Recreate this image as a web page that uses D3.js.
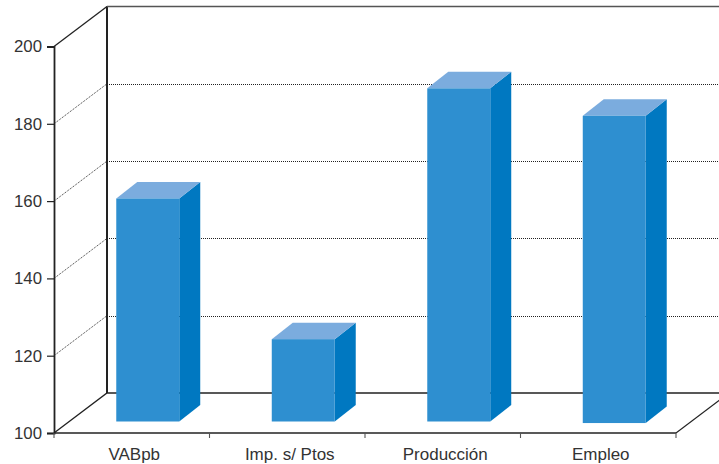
<!DOCTYPE html>
<html>
<head>
<meta charset="utf-8">
<script src="https://cdn.jsdelivr.net/npm/d3@7"></script>
<style>
  html, body { margin: 0; padding: 0; background: #fff; }
  svg { display: block; }
  text { font-family: "Liberation Sans", sans-serif; fill: #333; }
</style>
</head>
<body>
<div id="chart"></div>
<script>
/* global d3 */
const categories = ['VABpb', 'Imp. s/ Ptos', 'Producción', 'Empleo'];
const values = [157.7, 121.3, 186.2, 179.1];
const baseValues = [100, 100, 100, 99.6];
const yTicks = [100, 120, 140, 160, 180, 200];

const width = 719;
const height = 464;

// oblique offset of the back wall, of the bars on the floor, and of the bar depth
const wall = { dx: 53, dy: -40 };
const barOffset = { dx: 16, dy: -11.5 };
const barDepth = { dx: 21, dy: -16.5 };

const x = d3.scaleBand()
  .domain(categories)
  .range([54, 676])
  .paddingInner(0.595)
  .paddingOuter(0.2975);
const y = d3.scaleLinear()
  .domain([100, 200])
  .range([433, 46.5]);

const svg = d3.select('#chart')
  .append('svg')
  .attr('width', width)
  .attr('height', height);

const x0 = x.range()[0];
const x1 = x.range()[1];
const step = x.step();

// dotted gridlines on side wall and back wall
yTicks.slice(1, -1).forEach(t => {
  svg.append('path')
    .attr('d', `M${x0},${y(t)}L${x0 + wall.dx},${y(t) + wall.dy}`)
    .attr('fill', 'none')
    .attr('stroke', '#333')
    .attr('stroke-width', 1)
    .attr('stroke-dasharray', '1 1');
  svg.append('path')
    .attr('d', `M${x0 + wall.dx},${Math.round(y(t) + wall.dy) + 0.5}H${width}`)
    .attr('fill', 'none')
    .attr('stroke', '#222')
    .attr('stroke-width', 1)
    .attr('stroke-dasharray', '1 1');
});

// wall and floor outlines
const line = (d, w, c) => svg.append('path')
  .attr('d', d)
  .attr('fill', 'none')
  .attr('stroke', c || '#222')
  .attr('stroke-width', w);

line(`M${x0 + wall.dx},${y(100) + wall.dy}V${y(200) + wall.dy}`, 2);
line(`M${x0},${y(200)}L${x0 + wall.dx},${y(200) + wall.dy}`, 1.3);
line(`M${x0 + wall.dx},${y(200) + wall.dy}H${width}`, 1.3, '#555');
line(`M${x0},${y(100)}L${x0 + wall.dx},${y(100) + wall.dy}H${width}`, 1.3);
line(`M${x1},${y(100)}L${x1 + wall.dx},${y(100) + wall.dy}`, 1.1);

// bars: side, top, then front
const bars = svg.selectAll('g.bar')
  .data(categories.map((c, i) => ({ c, v: values[i], base: baseValues[i] })))
  .enter()
  .append('g')
  .attr('class', 'bar')
  .attr('transform', `translate(${barOffset.dx},${barOffset.dy})`);

bars.append('path')
  .attr('fill', '#0078c1')
  .attr('d', d => {
    const r = x(d.c) + x.bandwidth();
    return `M${r},${y(d.v)}l${barDepth.dx},${barDepth.dy}V${y(d.base) + barDepth.dy}l${-barDepth.dx},${-barDepth.dy}Z`;
  });
bars.append('path')
  .attr('fill', '#7bacde')
  .attr('d', d => `M${x(d.c)},${y(d.v)}l${barDepth.dx},${barDepth.dy}h${x.bandwidth()}l${-barDepth.dx},${-barDepth.dy}Z`);
bars.append('rect')
  .attr('fill', '#2e8fd0')
  .attr('x', d => x(d.c))
  .attr('y', d => y(d.v))
  .attr('width', x.bandwidth())
  .attr('height', d => y(d.base) - y(d.v));

// value axis
const yAxis = svg.append('g')
  .attr('transform', `translate(${x0},0)`)
  .call(d3.axisLeft(y).tickValues(yTicks).tickSize(7).tickPadding(5));
yAxis.select('.domain').attr('stroke', '#222').attr('stroke-width', 1.8);
yAxis.selectAll('.tick line').attr('stroke', '#222').attr('stroke-width', 1.2);
yAxis.selectAll('text').attr('font-size', 16.8).style('font-family', '"Liberation Sans", sans-serif').attr('fill', '#333');

// category axis, ticks sit on the band edges
svg.append('path')
  .attr('d', `M${x0},${y(100)}H${x1}`)
  .attr('stroke', '#222')
  .attr('stroke-width', 1.3);
svg.selectAll('line.xtick')
  .data(d3.range(categories.length + 1))
  .enter()
  .append('line')
  .attr('class', 'xtick')
  .attr('x1', i => x0 + i * step)
  .attr('x2', i => x0 + i * step)
  .attr('y1', y(100))
  .attr('y2', y(100) + 5)
  .attr('stroke', '#555')
  .attr('stroke-width', 1.1);
svg.selectAll('text.xlabel')
  .data(categories)
  .enter()
  .append('text')
  .attr('class', 'xlabel')
  .attr('x', d => x(d) + x.bandwidth() / 2 + 2.5)
  .attr('y', 460)
  .attr('text-anchor', 'middle')
  .attr('font-size', 17)
  .text(d => d);
</script>
</body>
</html>
